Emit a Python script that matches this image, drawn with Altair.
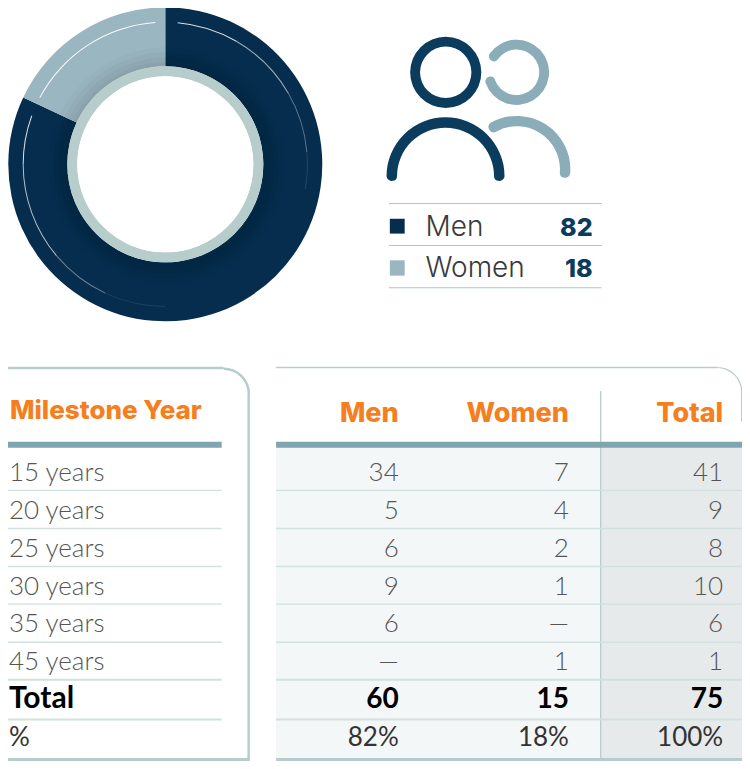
import math
import altair as alt
import pandas as pd

# ---------- values ----------
gender_labels = ["Men", "Women"]
gender_values = [82, 18]
rows = ["15 years", "20 years", "25 years", "30 years", "35 years", "45 years"]
men = ["34", "5", "6", "9", "6", "—"]
women = ["7", "4", "2", "1", "—", "1"]
total = ["41", "9", "8", "10", "6", "1"]
sum_row = ["Total", "60", "15", "75"]
pct_row = ["%", "82%", "18%", "100%"]
headers = ["Men", "Women", "Total"]

# ---------- layout and style ----------
W, H = 734, 753
NAVY, SLATE, PALE, BAND, ORANGE = "#062d4d", "#9ab6c1", "#b7cdcb", "#7fa5b1", "#f57f20"
ICON_M, ICON_W, LEGEND_LINE = "#0b3c5d", "#8aadb9", "#a9c6d1"
ROW_LINE = "#d2e1de"
HEAD_FONT, BODY_FONT = "Inter", "Lato"

XS = alt.Scale(domain=[4, 746], range=[0, W])
YS = alt.Scale(domain=[766, 5], range=[H, 0])
X = lambda f: alt.X(f, type="quantitative", scale=XS, axis=None)
Y = lambda f: alt.Y(f, type="quantitative", scale=YS, axis=None)
layers = []


def rect(x1, x2, y1, y2, color, **kw):
    d = pd.DataFrame({"a": [x1], "b": [x2], "c": [y1], "d": [y2]})
    layers.append(alt.Chart(d).mark_rect(color=color, **kw).encode(
        x=X("a"), x2="b", y=Y("c"), y2="d"))


def arc(cx, cy, r0, r1, a0, a1, color, opacity=1.0, corner=0):
    d = pd.DataFrame({"x": [cx], "y": [cy],
                      "t": [math.radians(a0)], "t2": [math.radians(a1)]})
    layers.append(alt.Chart(d).mark_arc(
        radius=r1, radius2=r0, color=color, opacity=opacity, cornerRadius=corner
    ).encode(x=X("x"), y=Y("y"),
             theta=alt.Theta("t:Q", scale=None), theta2="t2"))


def text(s, x, y, size, color, font=BODY_FONT, weight=400, align="right"):
    d = pd.DataFrame({"x": [x], "y": [y], "s": [s]})
    layers.append(alt.Chart(d).mark_text(
        font=font, fontSize=size, fontWeight=weight, color=color,
        align=align, baseline="alphabetic"
    ).encode(x=X("x"), y=Y("y"), text="s:N"))


# ---------- donut ----------
CX, CY = 163, 163
men_deg = gender_values[0] * 3.6
arc(CX, CY, 98, 157, 0, men_deg, NAVY)
arc(CX, CY, 98, 157, men_deg, 360, SLATE)
for r, o in [(103, 0.03), (108, 0.03), (113, 0.025), (118, 0.02)]:
    arc(CX + 1, CY + 1, 98, r, 0, 360, "#000000", o)
arc(CX, CY, 88, 98, 0, 360, PALE)
arc(CX, CY, 0, 88, 0, 360, "#ffffff")
for a0, a1, o in [(5, 30, 0.85), (30, 60, 0.6), (60, 85, 0.35), (85, 100, 0.12)]:
    arc(CX, CY, 141.6, 142.6, a0, a1, "#ffffff", o)
for a0, a1, o in [(298, 356, 0.95)]:
    arc(CX, CY, 141.6, 142.6, a0, a1, "#ffffff", o)
for a0, a1, o in [(180, 205, 0.1), (205, 230, 0.4), (230, 270, 0.7), (270, 290, 0.85)]:
    arc(CX, CY, 141.6, 142.6, a0, a1, "#ffffff", o)

# ---------- people icon ----------
arc(446.5, 70, 25.7, 35.6, 0, 360, ICON_M)
arc(446.3, 175, 48.5, 59, -95, 95, ICON_M, corner=5)
arc(518, 70, 22.8, 32.6, -65, 261, ICON_W, corner=5)
arc(518.5, 168, 43, 53.4, -35, 100, ICON_W, corner=5)

# ---------- legend ----------
for y in [202.5, 245, 287.7]:
    rect(389, 604, y - 0.5, y + 0.5, LEGEND_LINE)
rect(390, 405, 218, 233, NAVY)
rect(390, 405, 260, 275.5, SLATE)
for label, val, y in zip(gender_labels, gender_values, [235, 277]):
    text(label, 426, y, 28, "#3a3a3a", HEAD_FONT, 300, "left")
    text(str(val), 595, y, 25, ICON_M, HEAD_FONT, 800)

# ---------- table backgrounds ----------
rect(275, 603, 449, 763, "#f4f7f7")
rect(603, 746, 449, 763, "#e6eaeb")

# ---------- frames ----------
rect(4, 222, 367.5, 370, PALE)
arc(222, 395, 24, 26.5, 0, 90, PALE)
rect(246, 248.5, 395, 766, PALE)
rect(4, 248.5, 763, 766, PALE)
rect(275, 721, 367.5, 369, PALE)
arc(721, 393, 23.8, 25, 0, 90, PALE)
rect(745, 746, 393, 423, PALE)
rect(275, 746, 763, 766, PALE)
rect(602.5, 603.8, 392, 766, PALE)
rect(4, 220, 443.3, 449.5, BAND)
rect(275, 746, 443.3, 449.5, BAND)

ROW_Y = [492.5, 531, 569.5, 607.5, 646, 684, 724]
for i, y in enumerate(ROW_Y):
    t = 0.7 if i < 5 else 1
    rect(4, 220, y - t, y + t, ROW_LINE)
    rect(275, 746, y - t, y + t, ROW_LINE)

# ---------- table text ----------
COL_X = [399, 571, 727]
BASE_Y = [483, 521.5, 560, 598, 636, 674, 712, 751]
BODY_SIZE = 26
text("Milestone Year", 6, 420, 26, ORANGE, HEAD_FONT, 800, "left")
for h, x in zip(headers, COL_X):
    text(h, x, 423, 27, ORANGE, HEAD_FONT, 800)
for i, label in enumerate(rows):
    y = BASE_Y[i]
    text(label, 5, y, BODY_SIZE, "#555555", BODY_FONT, 300, "left")
    for col, x in zip((men, women, total), COL_X):
        text(col[i], x, y, BODY_SIZE, "#555555", BODY_FONT, 300)
text(sum_row[0], 5, BASE_Y[6], 30, "#000000", BODY_FONT, 700, "left")
for s, x in zip(sum_row[1:], COL_X):
    text(s, x, BASE_Y[6], 28, "#000000", BODY_FONT, 700)
text(pct_row[0], 5, BASE_Y[7], BODY_SIZE, "#333333", BODY_FONT, 400, "left")
for s, x in zip(pct_row[1:], COL_X):
    text(s, x, BASE_Y[7], BODY_SIZE, "#333333", BODY_FONT, 400)

chart = alt.layer(*layers).properties(
    width=W, height=H,
    autosize=alt.AutoSizeParams(type="none"),
    padding=0, background="#ffffff",
).configure_view(stroke=None)

chart.save("out.html", embed_options={"renderer": "svg", "actions": False})
